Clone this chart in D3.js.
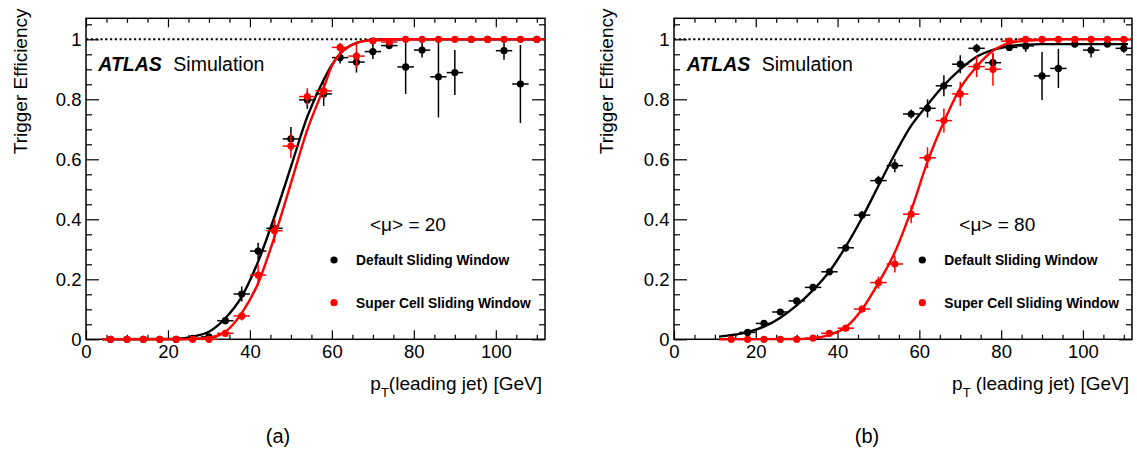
<!DOCTYPE html>
<html><head><meta charset="utf-8">
<script src="https://cdn.jsdelivr.net/npm/d3@7"></script>
<style>
html,body{margin:0;padding:0;background:#fff;}
svg{display:block;font-family:"Liberation Sans",Arial,Helvetica,sans-serif;}
</style></head><body>
<svg id="c" width="1137" height="452"></svg>
<script>
// ---------------- data ----------------
const xTickLabels = ["0","20","40","60","80","100"];
const yTickLabels = ["0","0.2","0.4","0.6","0.8","1"];
const binHalfWidth = 2;

// panel (a): <mu> = 20
const binsA = [6,10,14,18,22,26,30,34,38,42,46,50,54,58,62,66,70,74,78,82,86,90,94,98,102,106,110];
const effA_default = [0,0,0,0,0,0.003,0.008,0.062,0.151,0.294,0.37,0.668,0.798,0.818,0.939,0.924,0.959,0.979,0.908,0.964,0.875,0.889,1,1,0.962,0.851,1];
const errA_default = [0,0,0,0,0,0.003,0.005,0.012,0.025,0.028,0.028,0.04,0.03,0.04,0.02,0.035,0.025,0.01,0.09,0.025,0.135,0.075,0,0,0.03,0.13,0];
const effA_super = [0,0,0,0,0,0,0,0.02,0.078,0.214,0.362,0.644,0.809,0.828,0.973,0.944,0.995,0.991,1,1,1,1,1,1,1,1,1];
const errA_super = [0,0,0,0,0,0,0.002,0.01,0.015,0.035,0.04,0.04,0.028,0.025,0.015,0.04,0.008,0.01,0,0,0,0,0,0,0,0,0];
const fitA_default = [[4,0],[20,0.001],[24,0.004],[26,0.009],[30,0.025],[34,0.07],[38,0.142],[42,0.259],[46,0.409],[50,0.575],[54,0.742],[58,0.865],[60,0.915],[62,0.952],[66,0.988],[70,0.998],[74,1],[111,1]];
const fitA_super = [[4,0],[22,0],[26,0.001],[30,0.005],[34,0.025],[38,0.087],[42,0.187],[46,0.342],[50,0.52],[54,0.698],[58,0.838],[60,0.912],[62,0.952],[66,0.987],[70,0.998],[74,1],[111,1]];

// panel (b): <mu> = 80
const binsB = [14,18,22,26,30,34,38,42,46,50,54,58,62,66,70,74,78,82,86,90,94,98,102,106,110];
const effB_default = [null,0.023,0.053,0.091,0.128,0.173,0.225,0.305,0.414,0.529,0.579,0.751,0.77,0.845,0.917,0.97,0.922,0.973,0.978,0.878,0.903,0.984,0.964,0.984,0.97];
const errB_default = [0,0.004,0.005,0.007,0.008,0.009,0.01,0.012,0.014,0.016,0.022,0.015,0.03,0.035,0.03,0.015,0.03,0.01,0.02,0.08,0.065,0.01,0.025,0.01,0.015];
const effB_super = [0,0,0,0,0,0.004,0.02,0.037,0.101,0.189,0.251,0.417,0.605,0.729,0.818,0.909,0.9,0.994,1,1,1,1,1,1,1];
const errB_super = [0,0,0,0,0,0.002,0.004,0.006,0.012,0.02,0.028,0.03,0.035,0.04,0.04,0.035,0.055,0.008,0,0,0,0,0,0,0];
const fitB_default = [[11,0.009],[14,0.014],[18,0.024],[22,0.042],[26,0.072],[30,0.113],[34,0.164],[38,0.226],[42,0.309],[46,0.405],[50,0.512],[54,0.617],[58,0.712],[62,0.782],[66,0.847],[70,0.9],[74,0.942],[78,0.965],[82,0.977],[86,0.982],[90,0.984],[111,0.984]];
const fitB_super = [[11,0],[30,0.001],[34,0.004],[38,0.015],[42,0.04],[46,0.1],[50,0.188],[54,0.29],[58,0.43],[62,0.592],[66,0.725],[70,0.837],[74,0.909],[78,0.962],[82,0.987],[86,0.995],[90,0.998],[94,1],[111,1]];

const legendLabels = ["Default Sliding Window","Super Cell Sliding Window"];
const muLabels = ["<\u03bc> = 20","<\u03bc> = 80"];
const panelLabels = ["(a)","(b)"];

// ---------------- drawing ----------------
const svg = d3.select("#c");
const COLORS = ["#000000","#ff0000"];

function drawPanel(p) {
  const g = svg.append("g");
  const x = d3.scaleLinear().domain([0,112]).range([p.left, p.right]);
  const y = d3.scaleLinear().domain([0,1.07]).range([339.3, 18.3]);

  const xMajor = xTickLabels.map(Number);
  const yMajor = yTickLabels.map(Number);
  const xMinor = x.ticks(22).filter(v => xMajor.indexOf(v) < 0);
  const yMinor = d3.range(0, 1.0501, 0.05).map(v => +v.toFixed(2)).filter(v => yMajor.indexOf(v) < 0);

  function styleAxis(sel) {
    sel.select(".domain").remove();
    sel.selectAll(".tick line").attr("stroke","#000").attr("stroke-width",1.2);
    sel.selectAll(".tick text").attr("fill","#000").style("font-size","18.5px").style("font-family","'Liberation Sans',Arial,sans-serif");
  }
  const H = y(0), T = y(1.07);
  // bottom
  g.append("g").attr("transform",`translate(0,${H})`)
    .call(d3.axisBottom(x).tickValues(xMajor).tickFormat((d,i)=>xTickLabels[i]).tickSize(-9).tickPadding(6)).call(styleAxis);
  g.append("g").attr("transform",`translate(0,${H})`)
    .call(d3.axisBottom(x).tickValues(xMinor).tickFormat("").tickSize(-4.5)).call(styleAxis);
  // top
  g.append("g").attr("transform",`translate(0,${T})`)
    .call(d3.axisTop(x).tickValues(xMajor).tickFormat("").tickSize(-9)).call(styleAxis);
  g.append("g").attr("transform",`translate(0,${T})`)
    .call(d3.axisTop(x).tickValues(xMinor).tickFormat("").tickSize(-4.5)).call(styleAxis);
  // left
  g.append("g").attr("transform",`translate(${p.left},0)`)
    .call(d3.axisLeft(y).tickValues(yMajor).tickFormat((d,i)=>yTickLabels[i]).tickSize(-13).tickPadding(4.5)).call(styleAxis);
  g.append("g").attr("transform",`translate(${p.left},0)`)
    .call(d3.axisLeft(y).tickValues(yMinor).tickFormat("").tickSize(-6)).call(styleAxis);
  // right
  g.append("g").attr("transform",`translate(${p.right},0)`)
    .call(d3.axisRight(y).tickValues(yMajor).tickFormat("").tickSize(-13)).call(styleAxis);
  g.append("g").attr("transform",`translate(${p.right},0)`)
    .call(d3.axisRight(y).tickValues(yMinor).tickFormat("").tickSize(-6)).call(styleAxis);

  // frame
  g.append("rect").attr("x",x(0)).attr("y",T).attr("width",x(112)-x(0)).attr("height",H-T)
    .attr("fill","none").attr("stroke","#000").attr("stroke-width",1.5);

  // dotted line at 1
  g.append("line").attr("x1",x(0)).attr("x2",x(112)).attr("y1",y(1)).attr("y2",y(1))
    .attr("stroke","#000").attr("stroke-width",2).attr("stroke-dasharray","2.2,2.6");

  const line = d3.line().x(d=>x(d[0])).y(d=>y(d[1])).curve(d3.curveMonotoneX);

  p.series.forEach((s, si) => {
    const col = COLORS[si];
    const pts = p.bins.map((b,i)=>({b, v:s.eff[i], e:s.err[i]})).filter(d=>d.v!==null);
    const sg = g.append("g");
    sg.selectAll("line.h").data(pts).join("line")
      .attr("x1",d=>x(d.b-binHalfWidth)).attr("x2",d=>x(d.b+binHalfWidth))
      .attr("y1",d=>y(d.v)).attr("y2",d=>y(d.v))
      .attr("stroke",col).attr("stroke-width",1.5);
    sg.selectAll("line.v").data(pts.filter(d=>d.e>0)).join("line")
      .attr("x1",d=>x(d.b)).attr("x2",d=>x(d.b))
      .attr("y1",d=>y(d.v-d.e)).attr("y2",d=>y(d.v+d.e))
      .attr("stroke",col).attr("stroke-width",1.5);
    sg.selectAll("circle").data(pts).join("circle")
      .attr("cx",d=>x(d.b)).attr("cy",d=>y(d.v)).attr("r",3.6).attr("fill",col);
    sg.append("path").datum(s.fit).attr("d",line).attr("fill","none")
      .attr("stroke",col).attr("stroke-width",2.4);
  });

  // ATLAS label
  g.append("text").attr("x",p.atlasX).attr("y",70.7).style("font-size","19.5px")
    .style("font-weight","bold").style("font-style","italic").text("ATLAS");
  g.append("text").attr("x",p.atlasX+75).attr("y",70.7).style("font-size","19.5px").text("Simulation");

  // mu label
  g.append("text").attr("x",p.muX).attr("y",231).style("font-size","19px").text(p.mu);

  // legend
  legendLabels.forEach((lab,i)=>{
    const yy = 260 + i*42.7;
    g.append("circle").attr("cx",p.legX).attr("cy",yy).attr("r",3.6).attr("fill",COLORS[i]);
    g.append("text").attr("x",p.legX+22).attr("y",yy+5).style("font-size","13.8px")
      .style("font-weight","bold").text(lab);
  });

  // axis titles
  g.append("text").attr("transform",`translate(${p.yTitleX},8.5) rotate(-90)`)
    .attr("text-anchor","end").style("font-size","19px").text("Trigger Efficiency");
  const xt = g.append("text").attr("x",p.right-3).attr("y",390).attr("text-anchor","end").style("font-size","19px");
  xt.append("tspan").text("p");
  xt.append("tspan").attr("dy",7).style("font-size","13px").text("T");
  xt.append("tspan").attr("dy",-7).text(p.titleGap + "(leading jet) [GeV]");

  g.append("text").attr("x",p.labX).attr("y",443).attr("text-anchor","middle").style("font-size","20px").text(p.label);
}

drawPanel({left:86, right:545, atlasX:98.3, muX:370, legX:334, yTitleX:26.7, labX:278, label:panelLabels[0], mu:muLabels[0], titleGap:"",
  bins:binsA, series:[{eff:effA_default, err:errA_default, fit:fitA_default},{eff:effA_super, err:errA_super, fit:fitA_super}]});
drawPanel({left:674, right:1132, atlasX:686.7, muX:959.3, legX:922.3, yTitleX:613.4, labX:867, label:panelLabels[1], mu:muLabels[1], titleGap:" ",
  bins:binsB, series:[{eff:effB_default, err:errB_default, fit:fitB_default},{eff:effB_super, err:errB_super, fit:fitB_super}]});
</script>
</body></html>
